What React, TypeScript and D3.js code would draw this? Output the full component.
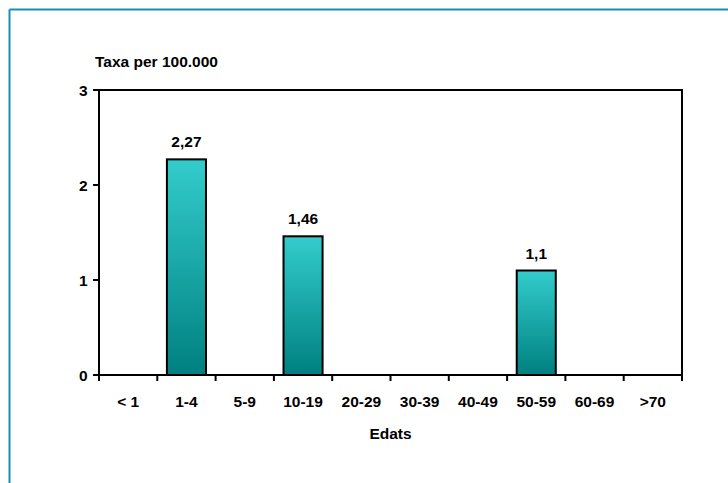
import React from "react";
import * as d3 from "d3";

const categories = ["< 1", "1-4", "5-9", "10-19", "20-29", "30-39", "40-49", "50-59", "60-69", ">70"];
const values = [0, 2.27, 0, 1.46, 0, 0, 0, 1.1, 0, 0];
const valueLabels = ["", "2,27", "", "1,46", "", "", "", "1,1", "", ""];
const yTicks = [0, 1, 2, 3];

export default function App() {
  const W = 728, H = 483;
  const left = 99, right = 682, top = 90, bottom = 375;
  const x = d3.scaleBand<string>().domain(categories).range([left, right]).paddingInner(0.33).paddingOuter(0.165);
  const xb = d3.scaleBand<string>().domain(categories).range([left, right]);
  const y = d3.scaleLinear().domain([0, 3]).range([bottom, top]);
  const font = "'Liberation Sans', Arial, sans-serif";
  const fs = 15.5;
  return (
    <svg width={W} height={H} style={{ position: "absolute", left: 0, top: 0 }} fontFamily={font}>
      <defs>
        <linearGradient id="barGrad" x1="0" y1="0" x2="0" y2="1">
          <stop offset="0%" stopColor="#33CCCC" />
          <stop offset="100%" stopColor="#008080" />
        </linearGradient>
      </defs>
      <rect x={0} y={0} width={W} height={H} fill="#fff" />
      <line x1={9.5} y1={9.5} x2={W} y2={9.5} stroke="#1490B4" strokeWidth={2} />
      <line x1={9.5} y1={9.5} x2={9.5} y2={H} stroke="#1490B4" strokeWidth={2} />
      <text x={95} y={67} fontSize={fs} fontWeight="bold">Taxa per 100.000</text>
      {values.map((v, i) =>
        v > 0 ? (
          <g key={i}>
            <rect x={x(categories[i])!} y={y(v)} width={x.bandwidth()} height={y(0) - y(v)} fill="url(#barGrad)" stroke="#000" strokeWidth={2} />
            <text x={x(categories[i])! + x.bandwidth() / 2} y={y(v) - 12} textAnchor="middle" fontSize={fs} fontWeight="bold">{valueLabels[i]}</text>
          </g>
        ) : null
      )}
      <rect x={left} y={top} width={right - left} height={bottom - top} fill="none" stroke="#000" strokeWidth={2} />
      {yTicks.map((t) => (
        <g key={t}>
          <line x1={left - 6} x2={left} y1={y(t)} y2={y(t)} stroke="#000" strokeWidth={2} />
          <text x={87.5} y={y(t) + 6} textAnchor="end" fontSize={fs} fontWeight="bold">{t}</text>
        </g>
      ))}
      {categories.map((c, i) => (
        <g key={c}>
          <line x1={xb(c)!} x2={xb(c)!} y1={bottom} y2={bottom + 6} stroke="#000" strokeWidth={2} />
          <text x={xb(c)! + xb.bandwidth() / 2} y={407} textAnchor="middle" fontSize={fs} fontWeight="bold">{c}</text>
        </g>
      ))}
      <line x1={right} x2={right} y1={bottom} y2={bottom + 6} stroke="#000" strokeWidth={2} />
      <text x={(left + right) / 2} y={439} textAnchor="middle" fontSize={fs} fontWeight="bold">Edats</text>
    </svg>
  );
}
